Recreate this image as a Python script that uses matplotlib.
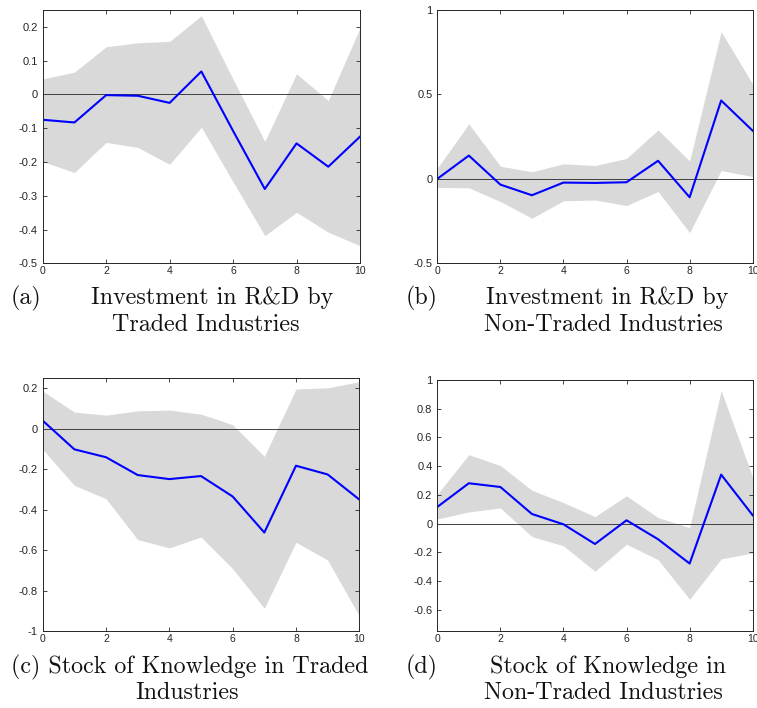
import numpy as np
import matplotlib
matplotlib.use("Agg")
import matplotlib.pyplot as plt

# horizons
h = list(range(11))

# (a) investment in R&D, traded industries
a_mid = [-0.075, -0.083, -0.002, -0.004, -0.025, 0.068, -0.108, -0.280, -0.145, -0.214, -0.125]
a_up = [0.046, 0.066, 0.141, 0.153, 0.157, 0.233, 0.045, -0.139, 0.061, -0.018, 0.197]
a_lo = [-0.199, -0.231, -0.142, -0.157, -0.207, -0.097, -0.259, -0.418, -0.349, -0.408, -0.448]

# (b) investment in R&D, non-traded industries
b_mid = [0.0, 0.138, -0.034, -0.097, -0.022, -0.024, -0.020, 0.107, -0.109, 0.464, 0.285]
b_up = [0.063, 0.326, 0.075, 0.042, 0.089, 0.079, 0.121, 0.290, 0.105, 0.872, 0.561]
b_lo = [-0.051, -0.053, -0.134, -0.233, -0.130, -0.125, -0.158, -0.075, -0.318, 0.049, 0.014]

# (c) stock of knowledge, traded industries
c_mid = [0.041, -0.101, -0.140, -0.228, -0.248, -0.233, -0.334, -0.512, -0.182, -0.225, -0.349]
c_up = [0.187, 0.083, 0.068, 0.089, 0.093, 0.073, 0.021, -0.136, 0.197, 0.203, 0.233]
c_lo = [-0.101, -0.279, -0.345, -0.547, -0.588, -0.534, -0.691, -0.886, -0.560, -0.648, -0.924]

# (d) stock of knowledge, non-traded industries
d_mid = [0.116, 0.281, 0.255, 0.067, -0.005, -0.142, 0.023, -0.109, -0.278, 0.341, 0.058]
d_up = [0.204, 0.480, 0.404, 0.232, 0.146, 0.049, 0.193, 0.042, -0.028, 0.926, 0.323]
d_lo = [0.032, 0.081, 0.109, -0.090, -0.155, -0.332, -0.144, -0.251, -0.527, -0.246, -0.204]

W, H = 757, 708
fig = plt.figure(figsize=(W / 100, H / 100), dpi=100)

def box(l, t, r, b):
    return [l / W, 1 - b / H, (r - l) / W, (b - t) / H]

panels = [
    (box(42.7, 10, 360, 263.3), a_mid, a_up, a_lo, (-0.5, 0.25), np.arange(-0.5, 0.21, 0.1)),
    (box(437.3, 10, 752.7, 263.3), b_mid, b_up, b_lo, (-0.5, 1.0), [-0.5, 0, 0.5, 1]),
    (box(42.7, 378.3, 359.3, 631.3), c_mid, c_up, c_lo, (-1.0, 0.25), np.arange(-1.0, 0.21, 0.2)),
    (box(437.3, 380, 752.7, 631.3), d_mid, d_up, d_lo, (-0.75, 1.0), np.arange(-0.6, 1.01, 0.2)),
]

edge = "#262626"
for pos, mid, up, lo, ylim, yt in panels:
    ax = fig.add_axes(pos)
    ax.fill_between(h, lo, up, color="#d9d9d9", linewidth=0)
    ax.axhline(0, color="#404040", linewidth=0.7)
    ax.plot(h, mid, color="#0000ff", linewidth=1.5)
    ax.set_xlim(0, 10)
    ax.set_ylim(*ylim)
    ax.set_xticks([0, 2, 4, 6, 8, 10])
    yt = np.round(yt, 2)
    ax.set_yticks(yt)
    ax.set_yticklabels(["%g" % v if abs(v) > 1e-9 else "0" for v in yt])
    ax.tick_params(direction="in", top=True, right=True, length=3, width=0.6,
                   colors=edge, labelsize=8)
    ax.tick_params(axis="x", labelsize=7.5, pad=2)
    for s in ax.spines.values():
        s.set_color(edge)
        s.set_linewidth(0.7)
    for lab in ax.get_xticklabels() + ax.get_yticklabels():
        lab.set_family("Liberation Sans")

cap = dict(family="cmr10", fontsize=17.3, color="#111111", va="center")

def ftext(x, y, s, ha):
    fig.text(x / W, 1 - y / H, s, ha=ha, **cap)

ftext(11, 298, "(a)", "left")
ftext(212, 298, "Investment in R&D by", "center")
ftext(206, 325, "Traded Industries", "center")
ftext(406, 298, "(b)", "left")
ftext(607, 298, "Investment in R&D by", "center")
ftext(603, 325, "Non-Traded Industries", "center")
ftext(11, 667, "(c) Stock of Knowledge in Traded", "left")
ftext(187, 693, "Industries", "center")
ftext(406, 667, "(d)", "left")
ftext(608, 667, "Stock of Knowledge in", "center")
ftext(603, 693, "Non-Traded Industries", "center")

fig.savefig("out.png", dpi=100)
